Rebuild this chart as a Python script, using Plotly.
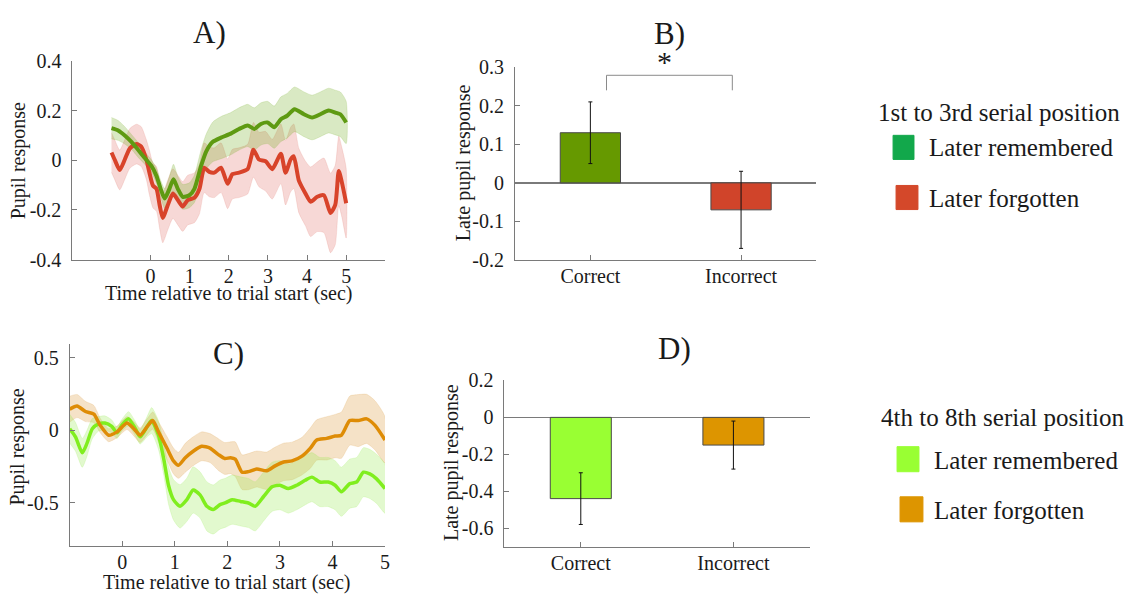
import plotly.graph_objects as go

# ---------------- data ----------------
# Panel A (1st-3rd serial position): time courses (sec, pupil response, +/- band)
greenA_x = [-1.0,-0.83,-0.66,-0.49,-0.32,-0.15,0.02,0.15,0.27,0.36,0.48,0.585,0.695,0.82,0.99,1.12,1.29,1.42,1.59,1.8,
            2.05,2.26,2.48,2.65,2.82,2.99,3.16,3.33,3.49,3.68,3.92,4.13,4.34,4.55,4.72,4.85,5.0]
greenA_y = [0.129,0.12,0.10,0.074,0.042,0.009,-0.023,-0.063,-0.121,-0.154,-0.115,-0.076,-0.115,-0.147,-0.141,-0.115,-0.023,0.035,0.074,0.091,
            0.107,0.126,0.14,0.126,0.146,0.152,0.133,0.165,0.179,0.205,0.185,0.172,0.185,0.2,0.192,0.185,0.152]
greenA_sem = [0.043,0.04,0.035,0.03,0.03,0.025,0.025,0.03,0.035,0.04,0.05,0.06,0.05,0.05,0.05,0.055,0.065,0.07,0.08,0.085,
              0.085,0.085,0.085,0.085,0.085,0.085,0.085,0.09,0.09,0.09,0.09,0.09,0.09,0.09,0.09,0.09,0.085]

redA_x = [-1.0,-0.92,-0.79,-0.66,-0.53,-0.36,-0.24,-0.11,-0.03,0.06,0.15,0.23,0.31,0.44,0.57,0.695,0.82,0.95,1.12,1.25,
          1.37,1.5,1.63,1.8,1.97,2.09,2.26,2.48,2.63,2.77,2.94,3.11,3.33,3.45,3.58,3.66,3.79,3.96,4.09,4.26,
          4.43,4.6,4.72,4.81,4.89,5.0]
redA_y = [0.031,0.003,-0.039,0.003,0.048,0.065,0.055,0.003,-0.05,-0.102,-0.115,-0.18,-0.232,-0.18,-0.134,-0.16,-0.186,-0.16,-0.151,-0.115,
          -0.03,-0.047,-0.05,-0.03,-0.095,-0.056,-0.05,-0.036,0.042,0.003,-0.004,-0.036,0.026,-0.05,0.003,0.016,-0.082,-0.134,-0.167,-0.147,
          -0.141,-0.212,-0.18,-0.043,-0.089,-0.173]
redA_sem = [0.08,0.08,0.08,0.08,0.08,0.08,0.08,0.08,0.09,0.09,0.09,0.095,0.1,0.1,0.1,0.1,0.1,0.1,0.1,0.1,
            0.1,0.1,0.1,0.1,0.1,0.1,0.1,0.1,0.11,0.11,0.12,0.12,0.12,0.13,0.13,0.13,0.13,0.13,0.14,0.14,
            0.15,0.16,0.16,0.14,0.14,0.14]

# Panel C (4th-8th serial position): time courses
orangeC_x = [-1.0,-0.86,-0.7,-0.54,-0.42,-0.26,-0.1,0.09,0.22,0.34,0.47,0.58,0.69,0.85,0.975,1.07,1.2,1.35,1.51,1.67,
             1.83,1.95,2.06,2.15,2.28,2.4,2.56,2.75,2.91,3.07,3.23,3.42,3.58,3.7,3.89,4.05,4.17,4.33,4.49,4.65,
             4.81,5.0]
orangeC_y = [0.146,0.168,0.13,0.112,0.034,-0.034,-0.011,0.05,0.011,-0.034,0.023,0.067,-0.011,-0.123,-0.212,-0.242,-0.19,-0.145,-0.111,-0.123,
             -0.168,-0.195,-0.19,-0.2,-0.29,-0.286,-0.268,-0.28,-0.246,-0.219,-0.212,-0.179,-0.123,-0.067,-0.056,-0.04,-0.034,0.067,0.067,0.079,
             0.034,-0.067]
orangeC_sem = [0.09,0.08,0.07,0.06,0.05,0.045,0.04,0.045,0.05,0.05,0.055,0.06,0.07,0.08,0.09,0.09,0.1,0.1,0.1,0.1,
               0.11,0.11,0.11,0.12,0.12,0.125,0.125,0.13,0.13,0.13,0.13,0.13,0.14,0.14,0.15,0.15,0.16,0.17,0.18,0.17,
               0.17,0.16]

limeC_x = [-1.0,-0.89,-0.76,-0.67,-0.57,-0.45,-0.33,-0.2,-0.1,-0.01,0.12,0.25,0.34,0.47,0.56,0.69,0.79,0.88,0.975,1.1,
           1.23,1.35,1.48,1.61,1.73,1.86,1.97,2.09,2.25,2.4,2.53,2.69,2.85,3.0,3.16,3.32,3.48,3.61,3.76,3.92,
           4.05,4.17,4.33,4.46,4.59,4.71,4.84,5.0]
limeC_y = [0.011,-0.045,-0.156,-0.089,0.011,0.045,0.05,0.027,-0.017,0.034,0.079,0.011,-0.045,0.023,0.067,-0.034,-0.2,-0.38,-0.48,-0.526,
           -0.48,-0.413,-0.447,-0.526,-0.548,-0.514,-0.5,-0.48,-0.492,-0.503,-0.526,-0.458,-0.391,-0.38,-0.403,-0.38,-0.346,-0.324,-0.358,-0.358,
           -0.38,-0.425,-0.369,-0.358,-0.29,-0.302,-0.336,-0.403]
limeC_sem = [0.1,0.1,0.1,0.09,0.07,0.05,0.05,0.045,0.04,0.04,0.05,0.05,0.05,0.07,0.09,0.1,0.11,0.13,0.14,0.15,
             0.15,0.16,0.16,0.17,0.17,0.17,0.17,0.17,0.17,0.17,0.17,0.17,0.17,0.17,0.17,0.17,0.17,0.17,0.17,0.17,
             0.17,0.17,0.17,0.17,0.17,0.17,0.17,0.17]

# Bar panels
categories = ["Correct", "Incorrect"]
B_values = [0.13, -0.07]
B_errors = [0.08, 0.10]
D_values = [-0.44, -0.15]
D_errors = [0.14, 0.13]

# Tick labels
A_xticks = [0, 1, 2, 3, 4, 5]
A_yticks = [-0.4, -0.2, 0, 0.2, 0.4]
A_yticklabels = ["-0.4", "-0.2", "0", "0.2", "0.4"]
B_yticks = [-0.2, -0.1, 0, 0.1, 0.2, 0.3]
B_yticklabels = ["-0.2", "-0.1", "0", "0.1", "0.2", "0.3"]
C_xticks = [0, 1, 2, 3, 4, 5]
C_yticks = [-0.5, 0, 0.5]
C_yticklabels = ["-0.5", "0", "0.5"]
D_yticks = [-0.6, -0.4, -0.2, 0, 0.2]
D_yticklabels = ["-0.6", "-0.4", "-0.2", "0", "0.2"]

legend_top_title = "1st to 3rd serial position"
legend_bottom_title = "4th to 8th serial position"
legend_labels = ["Later remembered", "Later forgotten"]

# ---------------- styling ----------------
W, H = 1141, 609
FONT = "Liberation Serif"
AXC = "#7a7a7a"
TXT = "#1a1a1a"

def px_x(p):
    return p / W

def px_y(p):
    return 1 - p / H

fig = go.Figure()

def band(x, y, s, fillcolor, xa, ya):
    up = [a + b for a, b in zip(y, s)]
    lo = [a - b for a, b in zip(y, s)]
    fig.add_trace(go.Scatter(
        x=list(x) + list(x)[::-1], y=up + lo[::-1], fill="toself",
        fillcolor=fillcolor, line=dict(width=0.6, color=fillcolor, shape="spline", smoothing=0.6),
        mode="lines", hoverinfo="skip", xaxis=xa, yaxis=ya))

def line(x, y, color, width, xa, ya):
    fig.add_trace(go.Scatter(x=x, y=y, mode="lines",
                             line=dict(color=color, width=width, shape="spline", smoothing=0.6),
                             xaxis=xa, yaxis=ya))

# Panel A
band(redA_x, redA_y, redA_sem, "rgba(222,100,90,0.25)", "x", "y")
band(greenA_x, greenA_y, greenA_sem, "rgba(120,175,40,0.28)", "x", "y")
line(redA_x, redA_y, "#D8432A", 4, "x", "y")
line(greenA_x, greenA_y, "#5E9A12", 4, "x", "y")

# Panel C
band(orangeC_x, orangeC_y, orangeC_sem, "rgba(222,160,70,0.30)", "x3", "y3")
band(limeC_x, limeC_y, limeC_sem, "rgba(150,235,80,0.28)", "x3", "y3")
line(limeC_x, limeC_y, "#80EE1E", 3.5, "x3", "y3")
line(orangeC_x, orangeC_y, "#DE8C06", 3.5, "x3", "y3")

# Panel B bars
fig.add_trace(go.Bar(
    x=categories, y=B_values, width=0.4,
    marker=dict(color=["#669900", "#D0442A"], line=dict(color="#4a4a4a", width=1)),
    error_y=dict(type="data", array=B_errors, color="#111", thickness=1, width=2),
    xaxis="x2", yaxis="y2"))

# Panel D bars
fig.add_trace(go.Bar(
    x=categories, y=D_values, width=0.4,
    marker=dict(color=["#99FF33", "#DD9500"], line=dict(color="#4a4a4a", width=1)),
    error_y=dict(type="data", array=D_errors, color="#111", thickness=1, width=2),
    xaxis="x4", yaxis="y4"))

def axis(domain, rng, tickvals=None, ticktext=None, anchor=None, **kw):
    d = dict(domain=domain, range=rng, showline=True, linecolor=AXC, linewidth=1,
             ticks="inside", ticklen=5, tickcolor=AXC, showgrid=False, zeroline=False,
             tickfont=dict(family=FONT, size=20, color=TXT), anchor=anchor)
    if tickvals is not None:
        d["tickvals"] = tickvals
    if ticktext is not None:
        d["ticktext"] = ticktext
    d.update(kw)
    return d

XSO = -2
fig.update_layout(
    width=W, height=H, margin=dict(l=0, r=0, t=0, b=0),
    paper_bgcolor="white", plot_bgcolor="white", showlegend=False,
    font=dict(family=FONT, color=TXT),
    xaxis=axis([px_x(72.7), px_x(387)], [-2, 6], A_xticks, None, "y", ticklabelstandoff=XSO),
    yaxis=axis([px_y(258), px_y(51.7)], [-0.4, 0.4], A_yticks, A_yticklabels, "x", ticklabelstandoff=6),
    xaxis2=axis([px_x(517.3), px_x(820)], [-0.5, 1.5], None, None, "y2", type="category", ticklabelstandoff=XSO),
    yaxis2=axis([px_y(258.3), px_y(58.3)], [-0.2, 0.3], B_yticks, B_yticklabels, "x2",
                zeroline=True, zerolinecolor=AXC, zerolinewidth=1.5, ticklabelstandoff=6),
    xaxis3=axis([px_x(70), px_x(386.7)], [-1, 5], C_xticks, None, "y3", ticklabelstandoff=XSO),
    yaxis3=axis([px_y(555), px_y(345)], [-0.8, 0.6], C_yticks, C_yticklabels, "x3", ticklabelstandoff=6),
    xaxis4=axis([px_x(506.7), px_x(813.3)], [-0.5, 1.5], None, None, "y4", type="category", ticklabelstandoff=XSO),
    yaxis4=axis([px_y(555.7), px_y(383.3)], [-0.7, 0.2], D_yticks, D_yticklabels, "x4",
                zeroline=True, zerolinecolor=AXC, zerolinewidth=1.2, ticklabelstandoff=6),
)

ann = []
def text(t, x, y, size, xanchor="center", angle=0, color=TXT):
    ann.append(dict(text=t, x=px_x(x), y=px_y(y), xref="paper", yref="paper",
                    xanchor=xanchor, yanchor="middle", showarrow=False, textangle=angle,
                    font=dict(family=FONT, size=size, color=color)))

# panel titles
text("A)", 210, 22, 31)
text("B)", 672, 23, 31)
text("C)", 230, 355, 31)
text("D)", 677, 350, 31)
# axis titles
text("Pupil response", 18, 155, 20, angle=-90)
text("Time relative to trial start (sec)", 230, 293, 20)
text("Late pupil response", 465, 157, 20, angle=-90)
text("Pupil response", 18, 452, 20, angle=-90)
text("Time relative to trial start (sec)", 228, 593, 20)
text("Late pupil response", 453, 469, 20, angle=-90)
# significance star
text("*", 667, 52, 30)
# legends
text(legend_top_title, 880, 105, 25, xanchor="left")
text(legend_labels[0], 931, 142, 25, xanchor="left")
text(legend_labels[1], 931, 195, 25, xanchor="left")
text(legend_bottom_title, 883, 422, 25, xanchor="left")
text(legend_labels[0], 936, 466, 25, xanchor="left")
text(legend_labels[1], 936, 518, 25, xanchor="left")
fig.update_layout(annotations=ann)

shapes = []
def square(x0, y0, x1, y1, color):
    shapes.append(dict(type="rect", xref="paper", yref="paper",
                       x0=px_x(x0), x1=px_x(x1), y0=px_y(y1), y1=px_y(y0),
                       fillcolor=color, line=dict(color=color, width=1)))

square(897, 129, 918, 154, "#12A84B")
square(900, 181, 922, 206, "#D4482A")
square(901, 452, 923, 478, "#99FF33")
square(904, 504, 927, 530, "#DD9500")

# significance bracket between bars in B
bl, br, btop, bleg = 0 + 0.107, 1 - 0.058, 0.279, 0.24
shapes.append(dict(type="path", xref="x2", yref="y2",
                   path=f"M {bl} {bleg} L {bl} {btop} L {br} {btop} L {br} {bleg}",
                   line=dict(color="#8a8a8a", width=1)))
fig.update_layout(shapes=shapes)

fig.write_html("out.html")
